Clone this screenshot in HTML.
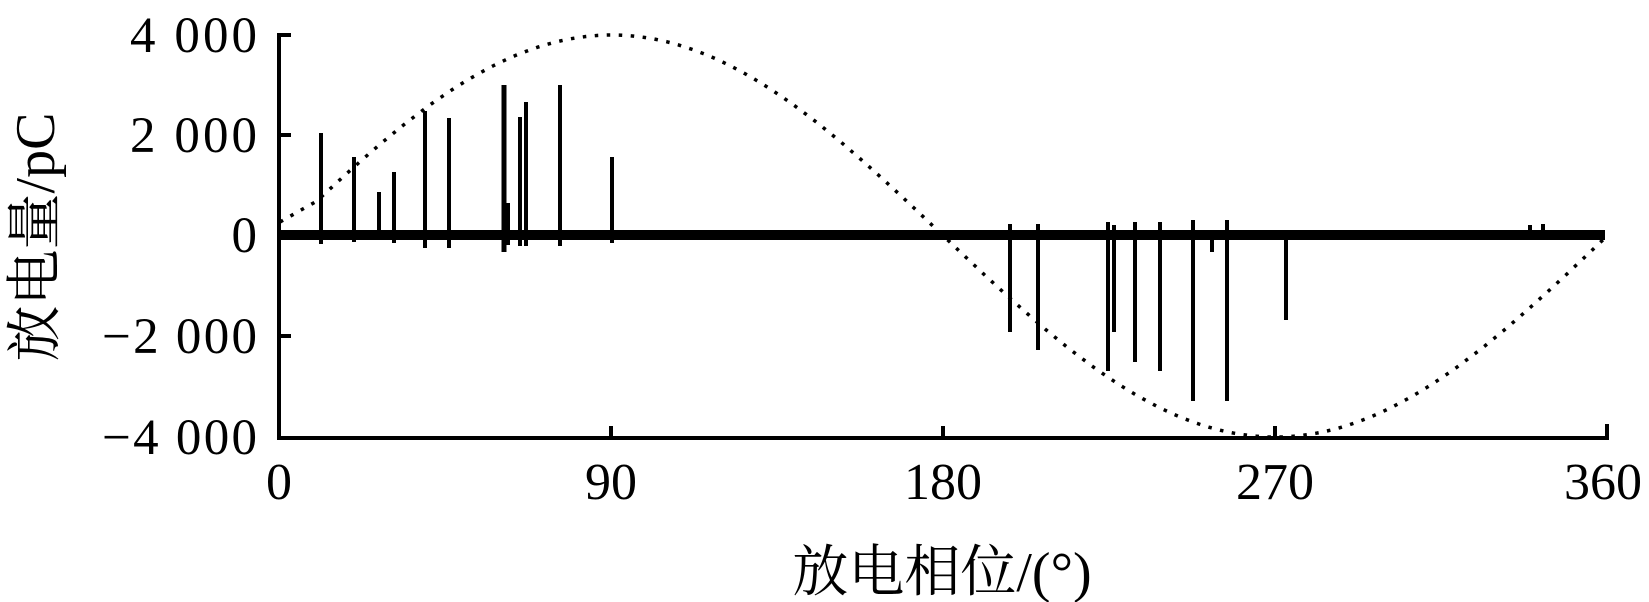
<!DOCTYPE html>
<html><head><meta charset="utf-8"><style>
html,body{margin:0;padding:0;background:#fff;}
svg{display:block;}
text{font-family:"Liberation Serif","Noto Serif CJK SC","Noto Sans CJK SC",serif;fill:#000;}
</style></head><body>
<svg width="1649" height="602" viewBox="0 0 1649 602" xmlns="http://www.w3.org/2000/svg">
<polyline fill="none" stroke="#000" stroke-width="3.5" stroke-dasharray="3.5 8.5" points=""/>
<script>
(function(){
var pts=[];
for(var i=0;i<=360;i+=1){
 var x=280+i*(1327/360);
 var y=236-201*Math.sin(i*Math.PI/180)+ (i<10? -14*(1-i/10):0);
 pts.push(x.toFixed(1)+","+y.toFixed(1));
}
document.querySelector('polyline').setAttribute('points',pts.join(' '));
})();
</script>
<rect x="281" y="230" width="1324" height="10" fill="#000"/>
<g stroke="#000" stroke-width="4" fill="none">
<line x1="321" y1="133" x2="321" y2="244"/>
<line x1="354" y1="157" x2="354" y2="242"/>
<line x1="379" y1="192" x2="379" y2="240"/>
<line x1="394" y1="172" x2="394" y2="243"/>
<line x1="425" y1="111" x2="425" y2="248"/>
<line x1="449" y1="118" x2="449" y2="248"/>
<line x1="504" y1="85" x2="504" y2="252" stroke-width="5"/>
<line x1="508" y1="203" x2="508" y2="245"/>
<line x1="520" y1="117" x2="520" y2="246"/>
<line x1="526" y1="102" x2="526" y2="246"/>
<line x1="560" y1="85" x2="560" y2="246"/>
<line x1="612" y1="157" x2="612" y2="243"/>
<line x1="1010" y1="224" x2="1010" y2="332"/>
<line x1="1038" y1="224" x2="1038" y2="350"/>
<line x1="1108" y1="222" x2="1108" y2="371"/>
<line x1="1114" y1="225" x2="1114" y2="332"/>
<line x1="1135" y1="222" x2="1135" y2="362"/>
<line x1="1160" y1="222" x2="1160" y2="371"/>
<line x1="1193" y1="220" x2="1193" y2="401"/>
<line x1="1212" y1="230" x2="1212" y2="252"/>
<line x1="1227" y1="220" x2="1227" y2="401"/>
<line x1="1286" y1="232" x2="1286" y2="320"/>
<line x1="1530" y1="225" x2="1530" y2="236"/>
<line x1="1543" y1="224" x2="1543" y2="236"/>
</g>
<g stroke="#000" stroke-width="4" fill="none">
<polyline points="291,35 279,35 279,438 1607,438 1607,424"/>
<line x1="279" y1="135" x2="291" y2="135"/>
<line x1="279" y1="336" x2="291" y2="336"/>
<line x1="611" y1="438" x2="611" y2="426"/>
<line x1="943" y1="438" x2="943" y2="426"/>
<line x1="1275" y1="438" x2="1275" y2="426"/>
</g>
<g font-size="51">
<text x="130" y="52" textLength="127" lengthAdjust="spacing">4 000</text>
<text x="130" y="152" textLength="127" lengthAdjust="spacing">2 000</text>
<text x="257" y="252" text-anchor="end">0</text>
<text x="102" y="353" textLength="155" lengthAdjust="spacing">−2 000</text>
<text x="102" y="454" textLength="155" lengthAdjust="spacing">−4 000</text>
</g>
<g font-size="52" text-anchor="middle">
<text x="279" y="499">0</text>
<text x="611" y="499">90</text>
<text x="943" y="499">180</text>
<text x="1275" y="499">270</text>
<text x="1603" y="499">360</text>
</g>
<text x="942" y="591" font-size="56" text-anchor="middle">放电相位/(°)</text>
<text transform="translate(54,237) rotate(-90)" font-size="56" text-anchor="middle">放电量/pC</text>
</svg>
</body></html>
